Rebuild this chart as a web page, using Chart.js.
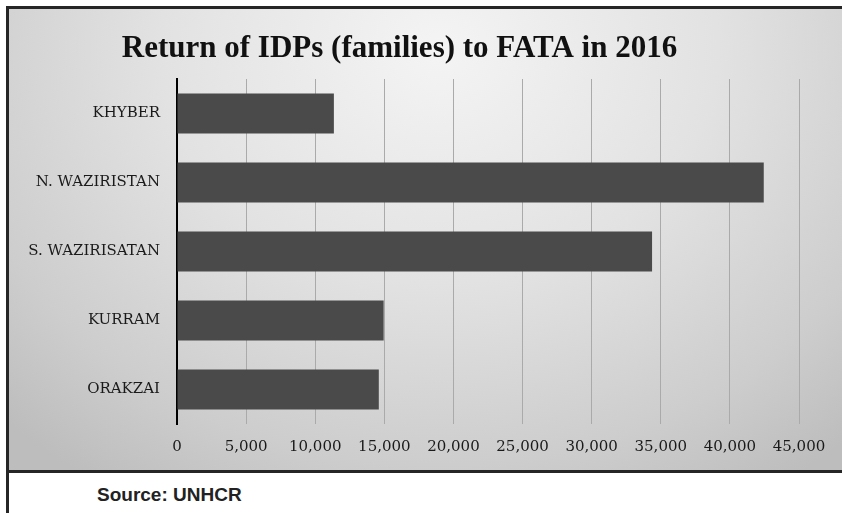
<!DOCTYPE html>
<html>
<head>
<meta charset="utf-8">
<script src="https://cdn.jsdelivr.net/npm/chart.js@4"></script>
<style>
  html, body { margin: 0; padding: 0; background: #fff; width: 842px; height: 513px; overflow: hidden; }
  #frame {
    position: absolute; left: 6px; top: 6px; width: 850px; height: 461px;
    border: 3px solid #262626;
    background: radial-gradient(ellipse 620px 520px at 430px 40px, #f4f4f4 0%, #e2e2e2 45%, #cdcdcd 80%, #bdbdbd 100%);
  }
  #leftline { position: absolute; left: 6px; top: 470px; width: 3px; height: 50px; background: #262626; }
  #src { position: absolute; left: 97px; top: 484px; font: bold 19px "Liberation Sans", Arial, sans-serif; color: #222; }
  canvas { position: absolute; left: 0; top: 0; }
</style>
</head>
<body>
<div id="frame"></div>
<div id="leftline"></div>
<div id="src">Source: UNHCR</div>
<canvas id="c" width="842" height="513"></canvas>
<script>
const categories = ["KHYBER", "N. WAZIRISTAN", "S. WAZIRISATAN", "KURRAM", "ORAKZAI"];
const families = [11350, 42450, 34370, 14950, 14600];
const xTicks = [0, 5000, 10000, 15000, 20000, 25000, 30000, 35000, 40000, 45000];
const titleText = "Return of IDPs (families) to FATA in 2016";

const tickFont = { family: "'DejaVu Serif', serif", size: 15 };

new Chart(document.getElementById('c'), {
  type: 'bar',
  data: {
    labels: categories,
    datasets: [{
      data: families,
      backgroundColor: '#4a4a4a',
      borderWidth: 0,
      categoryPercentage: 1,
      barPercentage: 0.58
    }]
  },
  options: {
    indexAxis: 'y',
    responsive: false,
    animation: false,
    layout: { padding: { left: 0, right: 43, top: 0, bottom: 43 } },
    plugins: {
      legend: { display: false },
      tooltip: { enabled: false },
      title: {
        display: true,
        text: titleText,
        color: '#111',
        font: { family: "'Liberation Serif', 'Times New Roman', serif", size: 31, weight: 'bold', lineHeight: 1.2 },
        padding: { top: 30, bottom: 11.8 }
      }
    },
    scales: {
      x: {
        min: 0, max: 45000,
        afterBuildTicks: (s) => { s.ticks = xTicks.map(v => ({ value: v })); },
        grid: { color: '#aaaaaa', lineWidth: 1, drawTicks: false },
        border: { display: false },
        ticks: {
          color: '#1a1a1a', font: tickFont, padding: 14, maxRotation: 0,
          callback: (v) => Number(v).toLocaleString('en-US')
        },
        afterFit: (s) => { s.height = 46; }
      },
      y: {
        grid: { display: false, drawTicks: false },
        border: { display: true, color: '#000', width: 2 },
        ticks: { color: '#1a1a1a', font: tickFont, padding: 17 },
        afterFit: (s) => { s.width = 177; }
      }
    }
  }
});
</script>
</body>
</html>
